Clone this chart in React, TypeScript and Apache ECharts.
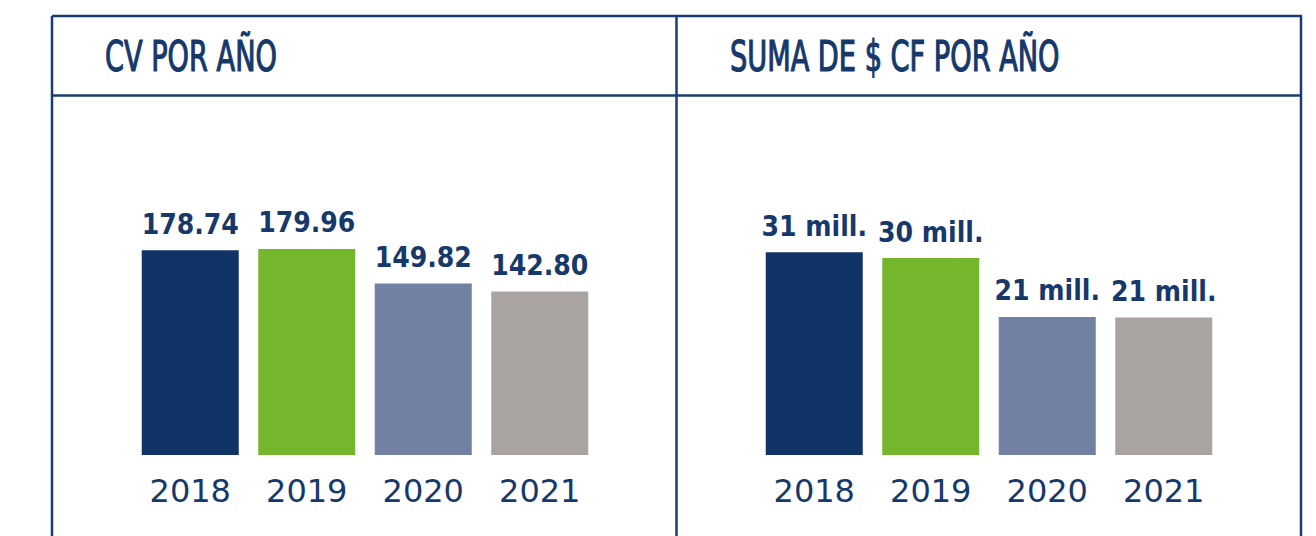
import React, { useEffect, useRef } from "react";
import * as echarts from "echarts";

const years = ["2018", "2019", "2020", "2021"];
const cvValues = [178.74, 179.96, 149.82, 142.8];
const cfValuesMill = [31.0, 30.1, 21.1, 21.0];
const barColors = ["#113365", "#74b62c", "#7180a3", "#a9a4a1"];
const titleLeft = "CV POR AÑO";
const titleRight = "SUMA DE $ CF POR AÑO";

const NAVY = "#16386b";
const BORDER = "#1b3c70";

export default function App() {
  const ref = useRef<HTMLDivElement>(null);
  useEffect(() => {
    document.body.style.margin = "0";
    const chart = echarts.init(ref.current!, null, { renderer: "svg" });
    const mkData = (vals: number[]) =>
      vals.map((v, i) => ({ value: v, itemStyle: { color: barColors[i] } }));
    const valueLabel = {
      show: true,
      position: "top",
      distance: 12,
      color: NAVY,
      fontFamily: "DejaVu Sans Condensed, sans-serif",
      fontWeight: "bold",
      fontSize: 28,
    };
    const catAxis = (gi: number) => ({
      type: "category",
      gridIndex: gi,
      data: years,
      axisLine: { show: false },
      axisTick: { show: false },
      axisLabel: {
        color: NAVY,
        fontFamily: "DejaVu Sans, sans-serif",
        fontSize: 32,
        margin: 20,
      },
    });
    const valAxis = (gi: number, max: number) => ({
      type: "value",
      gridIndex: gi,
      min: 0,
      max,
      show: false,
      splitLine: { show: false },
    });
    const line = (x1: number, y1: number, x2: number, y2: number) => ({
      type: "line",
      shape: { x1, y1, x2, y2 },
      style: { stroke: BORDER, lineWidth: 2.5 },
      silent: true,
    });
    const titleText = (x: number, text: string) => ({
      type: "text",
      x,
      y: 57,
      scaleX: 0.72,
      style: {
        text,
        fill: NAVY,
        stroke: NAVY,
        lineWidth: 1.2,
        fontFamily: "DejaVu Sans Condensed, sans-serif",
        fontSize: 42,
        verticalAlign: "middle",
        align: "left",
      },
    });
    chart.setOption({
      animation: false,
      grid: [
        { left: 132, width: 466, top: 226, bottom: 81 },
        { left: 756, width: 466, top: 226, bottom: 81 },
      ],
      xAxis: [catAxis(0), catAxis(1)],
      yAxis: [valAxis(0, 200), valAxis(1, 35)],
      series: [
        {
          type: "bar",
          xAxisIndex: 0,
          yAxisIndex: 0,
          barWidth: 97,
          data: mkData(cvValues),
          label: {
            ...valueLabel,
            formatter: (p: any) => p.value.toFixed(2),
          },
        },
        {
          type: "bar",
          xAxisIndex: 1,
          yAxisIndex: 1,
          barWidth: 97,
          data: mkData(cfValuesMill),
          label: {
            ...valueLabel,
            formatter: (p: any) => `${Math.round(p.value)} mill.`,
          },
        },
      ],
      graphic: [
        line(52, 16, 1302, 16),
        line(52, 95.5, 1302, 95.5),
        line(52, 16, 52, 536),
        line(676.5, 16, 676.5, 536),
        line(1301, 16, 1301, 536),
        titleText(105, titleLeft),
        titleText(730, titleRight),
      ],
    });
    return () => chart.dispose();
  }, []);
  return <div ref={ref} style={{ width: 1316, height: 536 }} />;
}
